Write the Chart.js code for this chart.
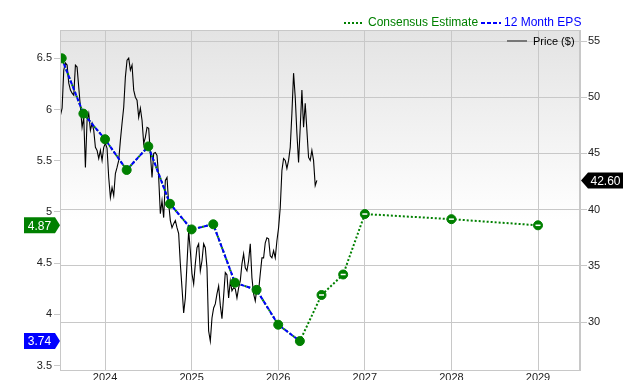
<!DOCTYPE html>
<html>
<head>
<meta charset="utf-8">
<script src="https://cdn.jsdelivr.net/npm/chart.js@4.4.1/dist/chart.umd.min.js"></script>
<style>
  html, body { margin: 0; padding: 0; background: #fff; }
  #wrap { width: 640px; height: 380px; }
</style>
</head>
<body>
<div id="wrap"><canvas id="chart" width="640" height="380"></canvas></div>
<script>
// reported 12 month EPS (quarterly)
const epsDates = [2023.5, 2023.75, 2024.0, 2024.25, 2024.5, 2024.75, 2025.0, 2025.25, 2025.5, 2025.75, 2026.0, 2026.25];
const epsValues = [6.50, 5.96, 5.71, 5.41, 5.64, 5.08, 4.83, 4.88, 4.31, 4.24, 3.90, 3.74];

// consensus estimates going forward
const estimateDates = [2026.5, 2026.75, 2027, 2028, 2029];
const estimateValues = [4.19, 4.39, 4.98, 4.93, 4.87];

// weekly closing price ($), first week starts mid 2023
const priceStart = 2023.485;
const priceValues = [
  48.39, 49.02, 52.41, 53.04, 52.86, 51.25, 50.63, 50.36, 50.18, 52.86,
  52.68, 50.89, 49.11, 47.32, 48.21, 43.75, 47.95, 48.57, 47.05, 47.68,
  47.05, 45.54, 45.27, 44.55, 45.27, 44.38, 45.54, 45.89, 45.45, 42.86,
  41.07, 41.96, 41.25, 43.21, 43.75, 44.38, 46.16, 47.68, 49.11, 51.79,
  53.30, 53.48, 52.41, 52.86, 50.63, 50.00, 49.73, 48.21, 49.02, 47.95,
  45.89, 46.43, 47.32, 47.23, 45.00, 42.86, 45.00, 45.09, 44.82, 42.86,
  39.64, 40.80, 39.29, 42.59, 42.86, 40.54, 39.02, 38.39, 38.75, 39.02,
  38.39, 37.86, 35.18, 33.04, 30.80, 32.14, 35.18, 38.13, 36.34, 34.29,
  33.39, 35.18, 36.61, 36.96, 34.55, 35.45, 36.96, 36.61, 34.82, 29.20,
  28.30, 30.36, 31.25, 31.61, 32.50, 33.21, 31.50, 30.30, 32.30, 34.40,
  34.20, 32.14, 33.66, 32.77, 33.04, 32.95, 32.14, 33.04, 33.66, 35.18,
  36.07, 34.82, 34.55, 35.45, 36.96, 33.93, 32.50, 31.88, 33.04, 32.77,
  34.29, 35.71, 35.71, 37.05, 37.50, 37.41, 35.89, 35.71, 36.34, 35.71,
  37.23, 38.39, 40.18, 43.48, 44.55, 44.38, 43.66, 44.38, 45.54, 48.57,
  52.14, 50.00, 46.79, 44.20, 47.32, 50.63, 47.32, 49.46, 47.05, 44.64,
  44.38, 45.27, 44.38, 42.14, 42.60
];

const yearTicks = [2024, 2025, 2026, 2027, 2028, 2029];
const epsTicks = [3.5, 4, 4.5, 5, 5.5, 6, 6.5];
const priceTicks = [30, 35, 40, 45, 50, 55];

const GREEN = '#008000';
const BLUE = '#0000ff';
const GRID = '#c8c8c8';
const FONT = '"Liberation Sans", Arial, sans-serif';

const pricePoints = priceValues.map((v, i) => ({ x: priceStart + i / 52, y: v }));
const epsPoints = epsDates.map((d, i) => ({ x: d, y: epsValues[i] }));
const estPoints = estimateDates.map((d, i) => ({ x: d, y: estimateValues[i] }));
const allPoints = epsPoints.concat(estPoints);

const lastEps = epsValues[epsValues.length - 1];
const lastEstimate = estimateValues[estimateValues.length - 1];
const lastPrice = priceValues[priceValues.length - 1];

const backdrop = {
  id: 'backdrop',
  beforeDraw(chart) {
    const { ctx, chartArea: a } = chart;
    ctx.save();
    ctx.fillStyle = '#fff';
    ctx.fillRect(0, 0, chart.width, chart.height);
    const g = ctx.createLinearGradient(0, a.top, 0, a.top + 190);
    g.addColorStop(0, '#e3e3e3');
    g.addColorStop(1, '#ffffff');
    ctx.fillStyle = g;
    ctx.fillRect(a.left, a.top, a.right - a.left, a.bottom - a.top);
    ctx.restore();
  },
  afterDatasetsDraw(chart) {
    const { ctx, chartArea: a } = chart;
    ctx.save();
    ctx.strokeStyle = GRID;
    ctx.lineWidth = 1;
    ctx.strokeRect(a.left + 0.5, a.top + 0.5, a.right - a.left - 1, a.bottom - a.top);
    ctx.restore();
  }
};

function flag(ctx, tipX, y, bodyX, bodyW, color, text, pointLeft) {
  const h = 16;
  ctx.fillStyle = color;
  ctx.beginPath();
  if (pointLeft) {
    ctx.moveTo(tipX, y);
    ctx.lineTo(bodyX, y - h / 2);
    ctx.lineTo(bodyX + bodyW, y - h / 2);
    ctx.lineTo(bodyX + bodyW, y + h / 2);
    ctx.lineTo(bodyX, y + h / 2);
  } else {
    ctx.moveTo(bodyX, y - h / 2);
    ctx.lineTo(bodyX + bodyW, y - h / 2);
    ctx.lineTo(tipX, y);
    ctx.lineTo(bodyX + bodyW, y + h / 2);
    ctx.lineTo(bodyX, y + h / 2);
  }
  ctx.closePath();
  ctx.fill();
  ctx.fillStyle = '#fff';
  ctx.font = '12px ' + FONT;
  ctx.textAlign = 'center';
  ctx.textBaseline = 'middle';
  ctx.fillText(text, bodyX + bodyW / 2, y + 1);
}

const annotations = {
  id: 'annotations',
  afterDraw(chart) {
    const { ctx, chartArea: a, scales } = chart;
    ctx.save();

    // top legend
    ctx.lineWidth = 2;
    ctx.strokeStyle = GREEN;
    ctx.setLineDash([2, 2]);
    ctx.beginPath(); ctx.moveTo(344, 23); ctx.lineTo(363, 23); ctx.stroke();
    ctx.strokeStyle = BLUE;
    ctx.setLineDash([4, 2]);
    ctx.beginPath(); ctx.moveTo(481, 23); ctx.lineTo(501, 23); ctx.stroke();
    ctx.setLineDash([]);
    ctx.font = '12px ' + FONT;
    ctx.textBaseline = 'middle';
    ctx.textAlign = 'left';
    ctx.fillStyle = GREEN;
    ctx.fillText('Consensus Estimate', 368, 23);
    ctx.fillStyle = BLUE;
    ctx.fillText('12 Month EPS', 504, 23);

    // price legend inside the plot
    ctx.strokeStyle = '#777';
    ctx.lineWidth = 2;
    ctx.beginPath(); ctx.moveTo(507, 41); ctx.lineTo(527, 41); ctx.stroke();
    ctx.fillStyle = '#000';
    ctx.font = '11px ' + FONT;
    ctx.fillText('Price ($)', 533, 42);

    // value flags
    flag(ctx, a.left, scales.y.getPixelForValue(lastEstimate), 24, 31, GREEN, lastEstimate.toFixed(2), false);
    flag(ctx, a.left, scales.y.getPixelForValue(lastEps), 24, 31, BLUE, lastEps.toFixed(2), false);
    flag(ctx, a.right + 1, scales.y2.getPixelForValue(lastPrice), 588, 35, '#000', lastPrice.toFixed(2), true);
    ctx.restore();
  }
};

const tickFont = { family: FONT, size: 11 };

new Chart(document.getElementById('chart'), {
  type: 'line',
  data: {
    datasets: [
      {
        label: 'Price ($)',
        data: pricePoints,
        yAxisID: 'y2',
        borderColor: '#000',
        borderWidth: 1.1,
        pointRadius: 0,
        tension: 0,
        order: 5
      },
      {
        label: 'Consensus Estimate',
        data: allPoints,
        yAxisID: 'y',
        borderColor: GREEN,
        borderWidth: 2,
        borderDash: [2, 2],
        pointRadius: 0,
        tension: 0,
        order: 4
      },
      {
        label: '12 Month EPS',
        data: epsPoints,
        yAxisID: 'y',
        borderColor: BLUE,
        borderWidth: 2,
        borderDash: [4, 2],
        pointRadius: 0,
        tension: 0,
        order: 3
      },
      {
        label: 'points',
        data: allPoints,
        yAxisID: 'y',
        showLine: false,
        pointRadius: 4.5,
        pointBorderWidth: 1,
        pointBackgroundColor: GREEN,
        pointBorderColor: GREEN,
        order: 2
      },
      {
        label: 'estimate marks',
        data: estPoints,
        yAxisID: 'y',
        showLine: false,
        pointStyle: 'line',
        pointRadius: 2.5,
        pointBorderWidth: 1.5,
        pointBorderColor: '#fff',
        order: 1
      }
    ]
  },
  options: {
    responsive: false,
    devicePixelRatio: 1,
    animation: false,
    events: [],
    layout: { padding: { top: 30, left: 0, right: 0, bottom: 0 } },
    plugins: {
      legend: { display: false },
      tooltip: { enabled: false }
    },
    scales: {
      x: {
        type: 'linear',
        min: 2023.48,
        max: 2029.485,
        afterBuildTicks: s => { s.ticks = yearTicks.map(v => ({ value: v })); },
        afterFit: s => { s.height = 10; },
        grid: { color: GRID, drawTicks: false },
        border: { color: GRID },
        ticks: {
          callback: v => String(v),
          font: tickFont,
          color: '#222',
          padding: 1,
          maxRotation: 0,
          autoSkip: false
        }
      },
      y: {
        position: 'left',
        min: 3.458,
        max: 6.776,
        afterBuildTicks: s => { s.ticks = epsTicks.map(v => ({ value: v })); },
        afterFit: s => { s.width = 60; },
        grid: { drawOnChartArea: false, color: GRID, tickLength: 6 },
        border: { color: GRID },
        ticks: { font: tickFont, color: '#222', padding: 2, callback: v => String(v) }
      },
      y2: {
        position: 'right',
        min: 25.73,
        max: 55.98,
        afterBuildTicks: s => { s.ticks = priceTicks.map(v => ({ value: v })); },
        afterFit: s => { s.width = 60; },
        grid: { color: GRID, tickLength: 7 },
        border: { color: GRID },
        ticks: { font: tickFont, color: '#222', padding: 1, callback: v => String(v) }
      }
    }
  },
  plugins: [backdrop, annotations]
});
</script>
</body>
</html>
